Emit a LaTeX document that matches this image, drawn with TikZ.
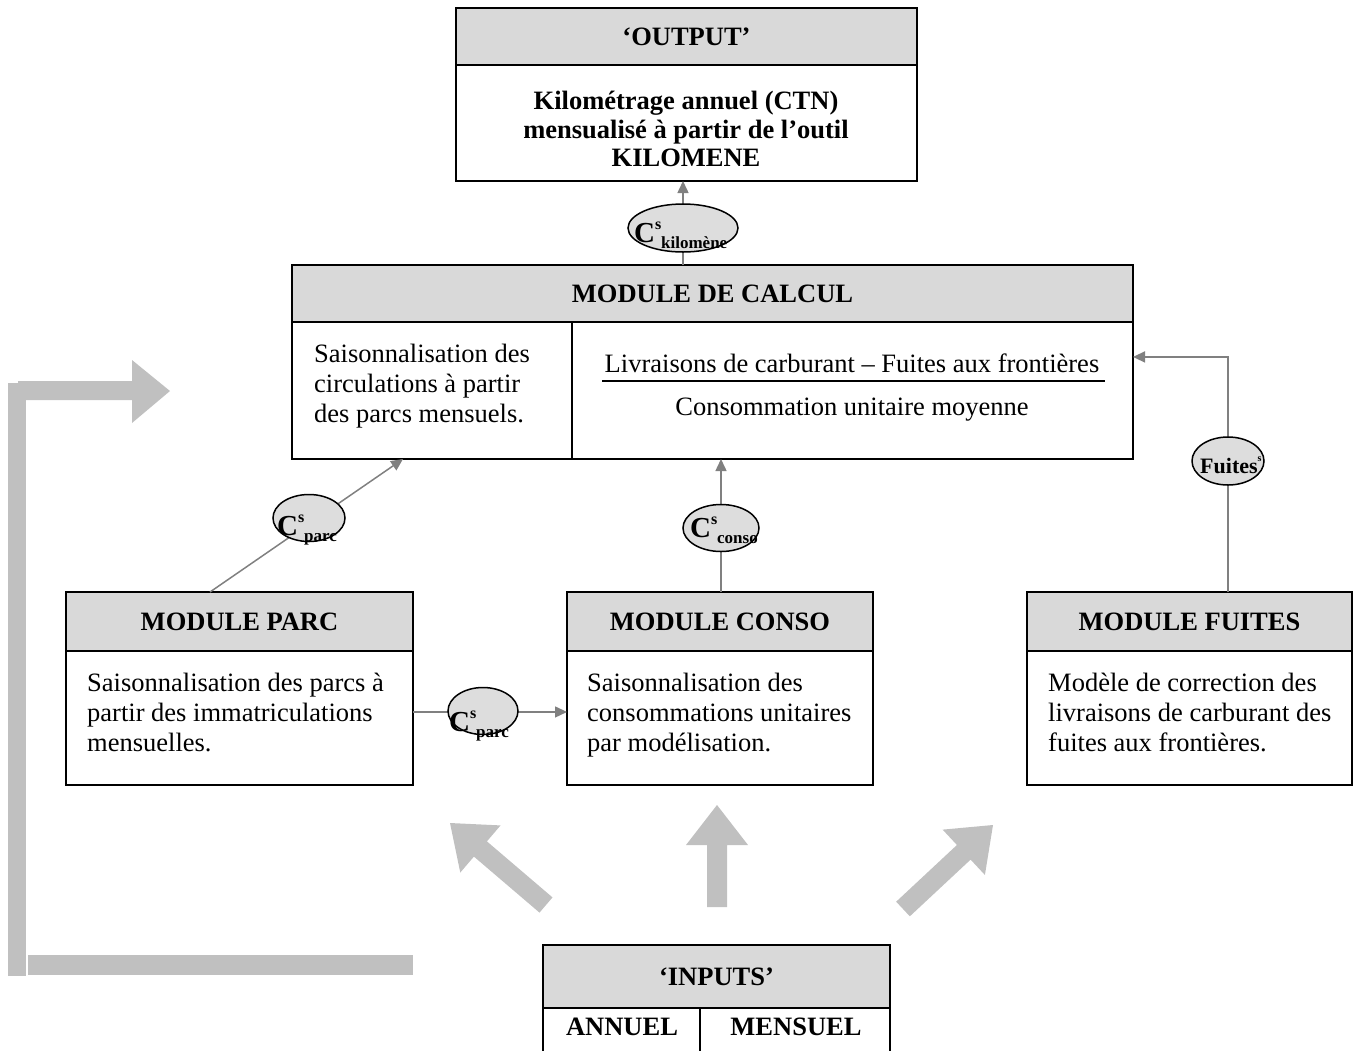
\documentclass[tikz,border=0pt]{standalone}
\usepackage{fontspec}
\setmainfont{Liberation Serif}
\usetikzlibrary{calc,arrows.meta,backgrounds,shapes.geometric}
\definecolor{hdrgray}{RGB}{217,217,217}
\definecolor{ellgray}{RGB}{221,221,221}
\definecolor{biggray}{RGB}{192,192,192}
\definecolor{conngray}{RGB}{128,128,128}
\newcommand{\Cs}[1]{{\fontsize{29}{29}\selectfont C}\rlap{\raisebox{13pt}{\fontsize{16}{16}\selectfont s}}\hspace{6pt}\raisebox{-6pt}{\fontsize{17}{17}\selectfont #1}}
\newcommand{\fatarrow}[2]{%
  \coordinate (fa-m) at ($(#2)!40pt!(#1)$);
  \fill[biggray] (#2) -- ($(fa-m)!31pt!90:(#2)$) -- ($(fa-m)!10pt!90:(#2)$)
    -- ($(#1)!10pt!90:(#2)$) -- ($(#1)!10pt!-90:(#2)$)
    -- ($(fa-m)!10pt!-90:(#2)$) -- ($(fa-m)!31pt!-90:(#2)$) -- cycle;}
\tikzset{
  hdr/.style={draw, fill=hdrgray, line width=1.6pt, inner sep=0pt, outer sep=0pt,
    anchor=north west, font=\fontsize{26.5}{30}\selectfont\bfseries},
  bodyb/.style={draw, fill=white, line width=1.6pt, inner sep=0pt, outer sep=0pt,
    anchor=north west},
  txt/.style={inner sep=0pt, align=left, font=\fontsize{26.5}{30}\selectfont},
  ell/.style={draw, ellipse, fill=ellgray, line width=1.5pt, inner sep=0pt},
  etxt/.style={inner sep=0pt, anchor=base west, font=\bfseries},
  conn/.style={draw=conngray, line width=1.5pt, -{Triangle[length=12pt,width=11pt]}},
}
\begin{document}
\begin{tikzpicture}[x=1pt,y=-1pt]
\useasboundingbox (0,0) rectangle (1355,1050);
\clip (0,0) rectangle (1355,1050);

% big gray arrows
\fill[biggray] (8,383) rectangle (26,976);
\fill[biggray] (28,955) rectangle (413,975);
\fill[biggray] (18,381) -- (132,381) -- (132,360) -- (170,391) -- (132,423) -- (132,400) -- (18,400) -- cycle;
\coordinate (la) at (546,905); \coordinate (lb) at (450,823);
\coordinate (ua) at (717,907); \coordinate (ub) at (717,805);
\coordinate (ra) at (903,909); \coordinate (rb) at (993,825);
\fatarrow{la}{lb}
\fatarrow{ua}{ub}
\fatarrow{ra}{rb}

% OUTPUT
\node[bodyb, minimum width=461pt, minimum height=116pt] (outb) at (456,65) {};
\node[hdr, minimum width=461pt, minimum height=57pt] (outh) at (456,8) {‘OUTPUT’};
\node[txt, align=center, font=\fontsize{26.5}{28.5}\selectfont\bfseries] (outt) at (686,129)
  {Kilométrage annuel (CTN)\\mensualisé à partir de l’outil\\KILOMENE};

% MODULE DE CALCUL
\node[bodyb, minimum width=841pt, minimum height=137pt] (calcb) at (292,322) {};
\node[hdr, minimum width=841pt, minimum height=57pt] (calch) at (292,265) {MODULE DE CALCUL};
\coordinate (cdt) at (572,322); \coordinate (cdb) at (572,459);
\draw[line width=1.6pt] (cdt) -- (cdb);
\node[txt, anchor=west] (calct) at (314,386)
  {\strut Saisonnalisation des\\circulations à partir\\des parcs mensuels.\strut};
\node[txt, anchor=center] (num) at (852,363) {Livraisons de carburant – Fuites aux frontières};
\node[txt, anchor=center] (den) at (852,410) {Consommation unitaire moyenne};
\coordinate (frl) at (602,381); \coordinate (frr) at (1105,381);
\draw[line width=1.5pt] (frl) -- (frr);

% MODULE PARC
\node[bodyb, minimum width=347pt, minimum height=134pt] (parcb) at (66,651) {};
\node[hdr, minimum width=347pt, minimum height=59pt] (parch) at (66,592) {MODULE PARC};
\node[txt, anchor=west] (parct) at (87,715)
  {\strut Saisonnalisation des parcs à\\partir des immatriculations\\mensuelles.\strut};

% MODULE CONSO
\node[bodyb, minimum width=306pt, minimum height=134pt] (consob) at (567,651) {};
\node[hdr, minimum width=306pt, minimum height=59pt] (consoh) at (567,592) {MODULE CONSO};
\node[txt, anchor=west] (consot) at (587,715)
  {\strut Saisonnalisation des\\consommations unitaires\\par modélisation.\strut};

% MODULE FUITES
\node[bodyb, minimum width=325pt, minimum height=134pt] (fuitesb) at (1027,651) {};
\node[hdr, minimum width=325pt, minimum height=59pt] (fuitesh) at (1027,592) {MODULE FUITES};
\node[txt, anchor=west] (fuitest) at (1048,715)
  {\strut Modèle de correction des\\livraisons de carburant des\\fuites aux frontières.\strut};

% INPUTS
\node[bodyb, minimum width=347pt, minimum height=70pt] (inb) at (543,1008) {};
\node[hdr, minimum width=347pt, minimum height=63pt] (inh) at (543,945) {‘INPUTS’};
\coordinate (idt) at (700,1008); \coordinate (idb) at (700,1080);
\draw[line width=1.6pt] (idt) -- (idb);
\node[inner sep=0pt, font=\fontsize{26.5}{30}\selectfont\bfseries] (ann) at (622,1027) {ANNUEL};
\node[inner sep=0pt, font=\fontsize{26.5}{30}\selectfont\bfseries] (mens) at (796,1027) {MENSUEL};

% connectors
\coordinate (kx) at (683,228);
\coordinate (p1) at ($(parch.north west)!0.415!(parch.north east)$);
\coordinate (p2) at ($(calcb.south west)!0.132!(calcb.south east)$);
\coordinate (cx) at (721,528);
\coordinate (f1) at ($(fuitesh.north west)!0.618!(fuitesh.north east)$);
\coordinate (f2) at ($(calcb.north east)!0.255!(calcb.south east)$);
\coordinate (h1) at ($(parcb.north east)!0.455!(parcb.south east)$);
\draw[conn] (kx |- calch.north) -- (kx |- outb.south);
\draw[conn] (p1) -- (p2);
\draw[conn] (cx |- consoh.north) -- (cx |- calcb.south);
\draw[conn] (f1) |- (f2);
\draw[conn] (h1) -- (h1 -| consob.west);

% ellipses
\node[ell, minimum width=110pt, minimum height=48pt] (ekilo) at (683,228) {};
\node[etxt] (tkilo) at (634,242) {\Cs{kilomène}};
\node[ell, minimum width=72pt, minimum height=47pt] (eparc) at (309,518) {};
\node[etxt] (tparc) at (277,535) {\Cs{parc}};
\node[ell, minimum width=76pt, minimum height=47pt] (econso) at (721,528) {};
\node[etxt] (tconso) at (690,537) {\Cs{conso}};
\node[ell, minimum width=72pt, minimum height=48pt] (efuites) at (1228,461) {};
\node[etxt] (tfuites) at (1200,473) {\fontsize{22}{22}\selectfont Fuites\raisebox{12pt}{\fontsize{10}{10}\selectfont s}};
\node[ell, minimum width=70pt, minimum height=47pt] (eparc2) at (483,711) {};
\node[etxt] (tparc2) at (449,731) {\Cs{parc}};
\end{tikzpicture}
\end{document}
